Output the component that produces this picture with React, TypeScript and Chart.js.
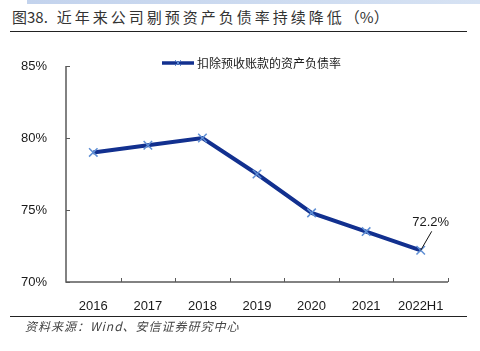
import React, { useEffect, useRef } from "react";
import { Chart, registerables } from "chart.js";

Chart.register(...registerables);

const categories = ["2016", "2017", "2018", "2019", "2020", "2021", "2022H1"];
const debtRatio = [79.0, 79.5, 80.0, 77.5, 74.8, 73.5, 72.2];
const yTicks = [70, 75, 80, 85];
const seriesName = "扣除预收账款的资产负债率";
const titlePrefix = "图38.";
const titleBody = "近年来公司剔预资产负债率持续降低";
const titleUnit = "（%）";
const sourceText = "资料来源：Wind、安信证券研究中心";

const LINE_COLOR = "#12308f";
const MARKER_COLOR = "#5f8fd4";
const AXIS_COLOR = "#595959";
const FONT = "'Liberation Sans', Arial, sans-serif";

const axesPlugin = {
  id: "customAxes",
  beforeDatasetsDraw(chart: any) {
    const { ctx, chartArea, scales } = chart;
    const { left, right, top, bottom } = chartArea;
    const x = scales.x;
    const y = scales.y;
    ctx.save();
    ctx.strokeStyle = AXIS_COLOR;
    ctx.lineWidth = 1.5;
    ctx.beginPath();
    ctx.moveTo(left, top);
    ctx.lineTo(left, bottom);
    ctx.lineTo(right, bottom);
    ctx.stroke();
    ctx.lineWidth = 1;
    ctx.beginPath();
    yTicks.forEach((v) => {
      const py = Math.round(y.getPixelForValue(v)) + 0.5;
      ctx.moveTo(left, py);
      ctx.lineTo(left + 4, py);
    });
    const step = x.getPixelForValue(1) - x.getPixelForValue(0);
    for (let i = 0; i < categories.length; i++) {
      const px = Math.round(x.getPixelForValue(i) + step / 2) + 0.5;
      ctx.moveTo(px, bottom);
      ctx.lineTo(px, bottom - 4);
    }
    ctx.stroke();
    ctx.restore();
  },
  afterDatasetsDraw(chart: any) {
    const { ctx } = chart;
    const meta = chart.getDatasetMeta(0);
    const last = meta.data[meta.data.length - 1];
    const px = last.x;
    const py = last.y;
    ctx.save();
    ctx.strokeStyle = "#111";
    ctx.lineWidth = 1;
    ctx.beginPath();
    ctx.moveTo(px, py);
    ctx.lineTo(px + 11, py - 19);
    ctx.stroke();
    ctx.fillStyle = "#1a1a1a";
    ctx.font = "13px " + FONT;
    ctx.textAlign = "center";
    ctx.textBaseline = "middle";
    ctx.fillText(debtRatio[debtRatio.length - 1].toFixed(1) + "%", px + 10, py - 28);
    ctx.restore();
  },
};

function LineChart() {
  const ref = useRef<HTMLCanvasElement | null>(null);
  useEffect(() => {
    if (!ref.current) return;
    const chart = new Chart(ref.current, {
      type: "line",
      data: {
        labels: categories,
        datasets: [
          {
            label: seriesName,
            data: debtRatio,
            borderColor: LINE_COLOR,
            backgroundColor: LINE_COLOR,
            borderWidth: 4,
            tension: 0,
            pointStyle: "crossRot",
            pointRadius: 6,
            pointHoverRadius: 6,
            pointBorderColor: MARKER_COLOR,
            pointBorderWidth: 1.5,
          } as any,
        ],
      },
      options: {
        animation: false,
        responsive: false,
        layout: { padding: { left: 0, right: 32, top: 66, bottom: 0 } },
        plugins: {
          legend: { display: false },
          tooltip: { enabled: false },
          title: { display: false },
        },
        scales: {
          x: {
            type: "category",
            offset: true,
            grid: { display: false },
            border: { display: false },
            ticks: {
              color: "#1a1a1a",
              font: { family: FONT, size: 13 },
              padding: 9,
              maxRotation: 0,
              autoSkip: false,
            },
            afterFit(scale: any) {
              scale.height = 69;
            },
          },
          y: {
            min: 70,
            max: 85,
            grid: { display: false },
            border: { display: false },
            ticks: {
              stepSize: 5,
              color: "#1a1a1a",
              font: { family: FONT, size: 13 },
              padding: 11,
              callback: (v: any) => v + "%",
            },
            afterFit(scale: any) {
              scale.width = 66;
            },
          },
        },
      },
      plugins: [axesPlugin],
    });
    return () => chart.destroy();
  }, []);
  return <canvas ref={ref} width={480} height={351} style={{ position: "absolute", left: 0, top: 0 }} />;
}

export default function App() {
  return (
    <div style={{ position: "absolute", left: 0, top: 0, width: 480, height: 351, background: "#fff", overflow: "hidden" }}>
      <div style={{ position: "absolute", left: 27, top: 0, width: 453, height: 4, background: "linear-gradient(90deg,#c3d3ed,#d6e2f3)" }} />
      <div
        style={{
          position: "absolute",
          left: 12,
          top: 8,
          fontFamily: "'Noto Sans CJK SC', sans-serif",
          fontSize: 15,
          color: "#333",
          lineHeight: "18px",
          whiteSpace: "nowrap",
        }}
      >
        <span>{titlePrefix}</span>
        <span style={{ marginLeft: 9, letterSpacing: 3 }}>{titleBody}</span>
        <span>{titleUnit}</span>
      </div>
      <div style={{ position: "absolute", left: 10, top: 31, width: 457, height: 1, background: "#222" }} />
      <LineChart />
      <div style={{ position: "absolute", left: 162, top: 57, width: 40, height: 12 }}>
        <svg width="34" height="12" style={{ position: "absolute", left: 0, top: 0 }}>
          <line x1="0" y1="6" x2="32" y2="6" stroke={LINE_COLOR} strokeWidth="3.5" />
          <line x1="13" y1="3" x2="19" y2="9" stroke={MARKER_COLOR} strokeWidth="1" />
          <line x1="19" y1="3" x2="13" y2="9" stroke={MARKER_COLOR} strokeWidth="1" />
        </svg>
      </div>
      <div
        style={{
          position: "absolute",
          left: 197,
          top: 55,
          fontFamily: "'Noto Sans CJK SC', sans-serif",
          fontSize: 12,
          lineHeight: "16px",
          color: "#1a1a1a",
          whiteSpace: "nowrap",
        }}
      >
        {seriesName}
      </div>
      <div style={{ position: "absolute", left: 10, top: 316, width: 457, height: 1, background: "#222" }} />
      <div
        style={{
          position: "absolute",
          left: 25,
          top: 319,
          fontFamily: "'Noto Sans CJK SC', sans-serif",
          fontSize: 12,
          letterSpacing: 1,
          fontStyle: "italic",
          lineHeight: "14px",
          color: "#444",
          whiteSpace: "nowrap",
        }}
      >
        {sourceText}
      </div>
    </div>
  );
}
